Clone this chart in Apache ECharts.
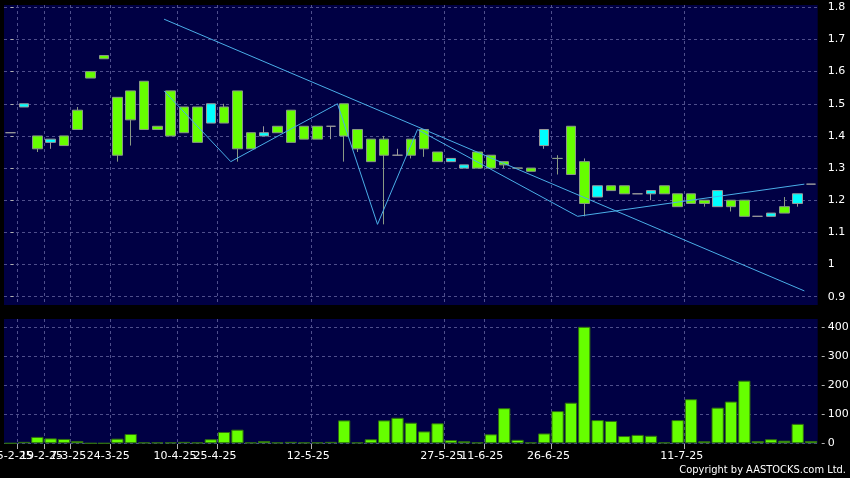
<!DOCTYPE html>
<html>
<head>
<meta charset="utf-8">
<script src="https://cdn.jsdelivr.net/npm/echarts@6/dist/echarts.min.js"></script>
<style>
html,body{margin:0;padding:0;background:#000;}
#chart{width:850px;height:478px;}
</style>
</head>
<body>
<div id="chart"></div>
<script>
// ---- data (one entry per trading slot) ----
const opens  = [1.41,1.49,1.40,1.38,1.40,1.48,1.60,1.65,1.52,1.54,1.57,1.43,1.54,1.49,1.49,1.44,1.49,1.54,1.41,1.40,1.43,1.48,1.43,1.43,1.43,1.50,1.42,1.39,1.39,1.34,1.39,1.42,1.35,1.32,1.30,1.35,1.34,1.32,1.30,1.30,1.37,1.33,1.43,1.32,1.21,1.245,1.245,1.22,1.22,1.245,1.22,1.22,1.20,1.18,1.20,1.20,1.15,1.15,1.18,1.19,1.25];
const closes = [1.41,1.50,1.36,1.39,1.37,1.42,1.58,1.64,1.34,1.45,1.42,1.42,1.40,1.41,1.38,1.50,1.44,1.36,1.36,1.41,1.41,1.38,1.39,1.39,1.43,1.40,1.36,1.32,1.34,1.34,1.34,1.36,1.32,1.33,1.31,1.30,1.30,1.31,1.30,1.29,1.42,1.33,1.28,1.19,1.245,1.23,1.22,1.22,1.23,1.22,1.18,1.19,1.19,1.23,1.18,1.15,1.15,1.16,1.16,1.22,1.25];
const lows   = [1.41,1.49,1.35,1.36,1.37,1.42,1.58,1.64,1.32,1.37,1.42,1.42,1.40,1.41,1.38,1.44,1.44,1.32,1.36,1.40,1.41,1.38,1.39,1.39,1.39,1.32,1.35,1.32,1.125,1.34,1.33,1.335,1.32,1.32,1.30,1.30,1.30,1.30,1.30,1.29,1.36,1.28,1.28,1.15,1.21,1.23,1.22,1.22,1.20,1.22,1.18,1.19,1.18,1.18,1.165,1.15,1.15,1.15,1.16,1.18,1.25];
const highs  = [1.41,1.50,1.40,1.39,1.40,1.49,1.60,1.65,1.52,1.54,1.57,1.43,1.54,1.49,1.49,1.50,1.50,1.54,1.41,1.43,1.43,1.48,1.43,1.43,1.43,1.50,1.42,1.39,1.40,1.36,1.39,1.42,1.35,1.33,1.31,1.35,1.34,1.32,1.30,1.30,1.42,1.34,1.43,1.33,1.245,1.245,1.245,1.22,1.23,1.245,1.22,1.22,1.20,1.23,1.20,1.20,1.15,1.16,1.21,1.22,1.25];
const volumes = [0,5,22,17,15,8,0,0,16,32,3,3,3,5,3,14,39,47,3,8,3,5,3,3,5,79,3,14,79,88,71,41,69,11,7,3,31,121,12,3,34,111,140,408,80,77,25,29,26,3,80,152,7,123,144,216,8,14,9,67,8];

// zig-zag line and trend line vertices: [slot position, price]
const zigzagSlots  = [11.5, 16.5, 24.5, 27.5, 30.5, 42.5, 59.5];
const zigzagPrices = [1.54, 1.32, 1.50, 1.125, 1.42, 1.15, 1.25];
const trendSlots   = [11.5, 59.5];
const trendPrices  = [1.763, 0.918];

// date tick labels (at slot boundaries)
const tickSlots = [1, 3, 5, 8, 13, 16, 23, 33, 36, 41, 51];
const tickTexts = ['5-2-25','19-2-25','7-3-25','24-3-25','10-4-25','25-4-25','12-5-25','27-5-25','11-6-25','26-6-25','11-7-25'];

const priceTicks = {min: 0.9, max: 1.8, interval: 0.1};
const volumeTicks = {min: 0, max: 400, interval: 100};

// ---- build ----
const nSlots = opens.length;
const slotIds = opens.map((_, i) => String(i));
const boundaryIds = Array.from({length: nSlots + 1}, (_, i) => String(i));
const candleData = opens.map((o, i) => [o, closes[i], lows[i], highs[i]]);
const zigzagData = zigzagSlots.map((s, i) => [s, zigzagPrices[i]]);
const trendData = trendSlots.map((s, i) => [s, trendPrices[i]]);
const isTick = (idx) => tickSlots.indexOf(idx) >= 0;

const FONT = 'DejaVu Sans';
const GRID_COLOR = '#4f4f8c';
const NAVY = '#000044';
const L = 4, W = 813.7;

const hiddenCat = (gridIndex, data, gap) => ({
  type: 'category', gridIndex, data, boundaryGap: gap,
  axisLine: {show: false}, axisTick: {show: false}, axisLabel: {show: false}, splitLine: {show: false}
});
const vSplit = {show: true, interval: (i) => isTick(i), lineStyle: {color: GRID_COLOR, type: [3, 3], width: 1}};

// label axes: overlapping labels are split over separate axes so none gets hidden
const labelGroups = [[1], [3], [5], tickSlots.slice(3)];
const labelAxes = labelGroups.map((vals, gi) => ({
  type: 'value', gridIndex: 2, min: 0, max: nSlots, position: 'bottom',
  axisLine: {show: false}, splitLine: {show: false},
  axisTick: {show: gi === 0, customValues: tickSlots, length: 5, lineStyle: {color: '#b0b0b0'}},
  axisLabel: {show: true, customValues: vals, color: '#ffffff', fontFamily: FONT, fontSize: 11,
    margin: 7, padding: [0, 5, 0, 0], hideOverlap: false, showMinLabel: true, showMaxLabel: true,
    formatter: (v) => { const k = tickSlots.indexOf(Math.round(v)); return k >= 0 ? tickTexts[k] : ''; }}
}));

const gridBase = {left: L, width: W, outerBoundsMode: 'none', containLabel: false};
const option = {
  backgroundColor: '#000000',
  animation: false,
  grid: [
    Object.assign({top: 5, height: 300, show: true, backgroundColor: NAVY, borderWidth: 0}, gridBase),
    Object.assign({top: 7.3, height: 289.4}, gridBase),
    Object.assign({top: 319, height: 125, show: true, backgroundColor: NAVY, borderWidth: 0}, gridBase),
    Object.assign({top: 327.3, height: 116}, gridBase)
  ],
  xAxis: [
    Object.assign(hiddenCat(0, boundaryIds, false), {splitLine: vSplit}),
    hiddenCat(1, slotIds, true),
    {type: 'value', gridIndex: 1, min: -0.5, max: nSlots - 0.5, show: false, splitLine: {show: false}},
    Object.assign(hiddenCat(2, boundaryIds, false), {splitLine: vSplit}),
    hiddenCat(3, slotIds, true)
  ].concat(labelAxes),
  yAxis: [
    {type: 'value', gridIndex: 0, min: 0, max: 1, show: false, splitLine: {show: false}},
    {type: 'value', gridIndex: 1, position: 'right', offset: 4,
      min: priceTicks.min, max: priceTicks.max, interval: priceTicks.interval,
      axisLine: {show: false}, axisTick: {show: true, length: 3, lineStyle: {color: '#b0b0b0'}},
      axisLabel: {color: '#ffffff', fontFamily: FONT, fontSize: 11, margin: 6},
      splitLine: {show: true, lineStyle: {color: GRID_COLOR, type: [3, 3], width: 1}}},
    {type: 'value', gridIndex: 2, min: 0, max: 1, show: false, splitLine: {show: false}},
    {type: 'value', gridIndex: 3, position: 'right', offset: 4,
      min: volumeTicks.min, max: volumeTicks.max, interval: volumeTicks.interval,
      axisLine: {show: false}, axisTick: {show: true, length: 3, lineStyle: {color: '#b0b0b0'}},
      axisLabel: {color: '#ffffff', fontFamily: FONT, fontSize: 11, margin: 6},
      splitLine: {show: true, lineStyle: {color: GRID_COLOR, type: [3, 3], width: 1}}}
  ],
  series: [
    {type: 'candlestick', xAxisIndex: 1, yAxisIndex: 1, data: candleData, barWidth: 10,
      itemStyle: {color: '#00ffff', color0: '#66ff00', borderColor: '#9a9a9a', borderColor0: '#8a9a84', borderWidth: 1}},
    {type: 'line', xAxisIndex: 2, yAxisIndex: 1, data: zigzagData, symbol: 'none', silent: true,
      lineStyle: {color: '#4aaee8', width: 1}, z: 5},
    {type: 'line', xAxisIndex: 2, yAxisIndex: 1, data: trendData, symbol: 'none', silent: true,
      lineStyle: {color: '#4aaee8', width: 1}, z: 5},
    {type: 'bar', xAxisIndex: 4, yAxisIndex: 3, data: volumes, barCategoryGap: '8%',
      itemStyle: {color: '#66ff00', borderColor: '#2f6e10', borderWidth: 1}}
  ],
  graphic: [
    {type: 'text', right: 4, top: 465,
      style: {text: 'Copyright by AASTOCKS.com Ltd.', fill: '#ffffff', fontFamily: 'DejaVu Sans Condensed', fontSize: 11}}
  ]
};

const chart = echarts.init(document.getElementById('chart'), null, {renderer: 'canvas'});
chart.setOption(option);
</script>
</body>
</html>
